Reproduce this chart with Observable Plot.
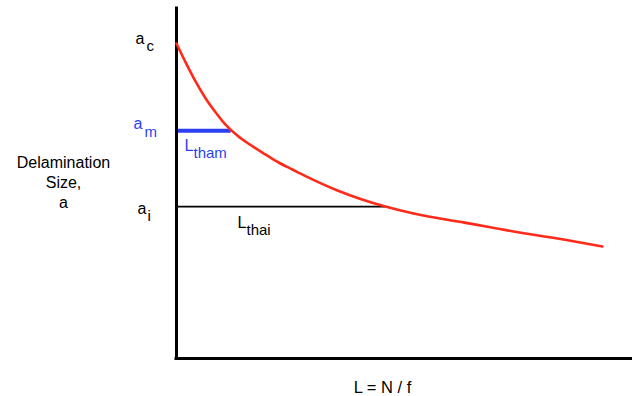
<!DOCTYPE html>
<html>
<head>
<meta charset="utf-8">
<script src="https://cdn.jsdelivr.net/npm/d3@7"></script>
<script src="https://cdn.jsdelivr.net/npm/@observablehq/plot@0.6"></script>
<style>
  body { margin: 0; background: #fff; }
</style>
</head>
<body>
<div id="chart"></div>
<script>
// Delamination growth curve: size a against normalised life L = N / f
const life = [0, 0.20, 0.42, 0.64, 0.86, 1.07, 1.36, 1.67, 1.95, 2.24, 2.54, 2.83, 3.53, 4.58, 5.20, 6.29, 7.39, 8.49, 9.34];
const size = [9.00, 8.46, 7.91, 7.43, 7.03, 6.69, 6.34, 6.06, 5.83, 5.60, 5.40, 5.21, 4.80, 4.34, 4.14, 3.89, 3.63, 3.40, 3.20];

// characteristic sizes and the lives at which the curve reaches them
const aCritical = 9.0;
const aMid = 6.51;
const lifeMid = 1.2;
const aInitial = 4.34;
const lifeInitial = 4.58;

const yTitle = "Delamination\nSize,\na";
const xTitle = "L = N / f";

const curve = life.map((L, i) => ({L, a: size[i]}));

const RED = "#ff2a1a";
const BLUE = "#2d3ff2";
const FONT = "Liberation Sans, Arial, Helvetica, sans-serif";

// a letter with a lowered subscript, anchored at (L, a)
function subscripted(L, a, main, sub, color, m, s) {
  const pt = [{L, a}];
  return [
    Plot.text(pt, {x: "L", y: "a", text: () => main, fill: color, fontSize: 16,
      textAnchor: "start", lineAnchor: "bottom", dx: m[0], dy: m[1]}),
    Plot.text(pt, {x: "L", y: "a", text: () => sub, fill: color, fontSize: 15,
      textAnchor: "start", lineAnchor: "bottom", dx: s[0], dy: s[1]})
  ];
}

const chart = Plot.plot({
  width: 632,
  height: 396,
  marginLeft: 176,
  marginRight: 0,
  marginTop: 8,
  marginBottom: 38,
  x: {domain: [0, 10], axis: null},
  y: {domain: [0, 10], axis: null},
  style: {fontFamily: FONT, background: "#fff", color: "#000"},
  marks: [
    // threshold lives read at the initial and intermediate sizes
    Plot.ruleY([aInitial], {x1: 0, x2: lifeInitial, stroke: "#000", strokeWidth: 1.6}),
    Plot.ruleY([aMid], {x1: 0, x2: lifeMid, stroke: BLUE, strokeWidth: 4}),
    // axes
    Plot.ruleX([0], {stroke: "#000", strokeWidth: 3, strokeLinecap: "square"}),
    Plot.ruleY([0], {stroke: "#000", strokeWidth: 3, strokeLinecap: "square"}),
    // growth curve
    Plot.line(curve, {x: "L", y: "a", stroke: RED, strokeWidth: 2.6, curve: "monotone-x"}),
    // size labels on the vertical axis
    ...subscripted(0, aCritical, "a", "c", "#000", [-41, 0], [-30, 7]),
    ...subscripted(0, aMid, "a", "m", BLUE, [-43, -2], [-32, 6]),
    ...subscripted(0, aInitial, "a", "i", "#000", [-39, 7], [-29, 14]),
    // threshold life labels
    ...subscripted(0, aMid, "L", "tham", BLUE, [8, 20], [17, 27]),
    ...subscripted(0, aInitial, "L", "thai", "#000", [61, 21], [70, 28]),
    // axis titles
    Plot.text([yTitle], {frameAnchor: "top-left", dx: -113, dy: 199, textAnchor: "middle",
      lineAnchor: "bottom", lineHeight: 1.22, fontSize: 16, fill: "#000"}),
    Plot.text([xTitle], {frameAnchor: "bottom-left", dx: 206, dy: 34, textAnchor: "middle",
      lineAnchor: "bottom", fontSize: 16.5, fill: "#000"})
  ]
});

document.getElementById("chart").append(chart);
</script>
</body>
</html>
